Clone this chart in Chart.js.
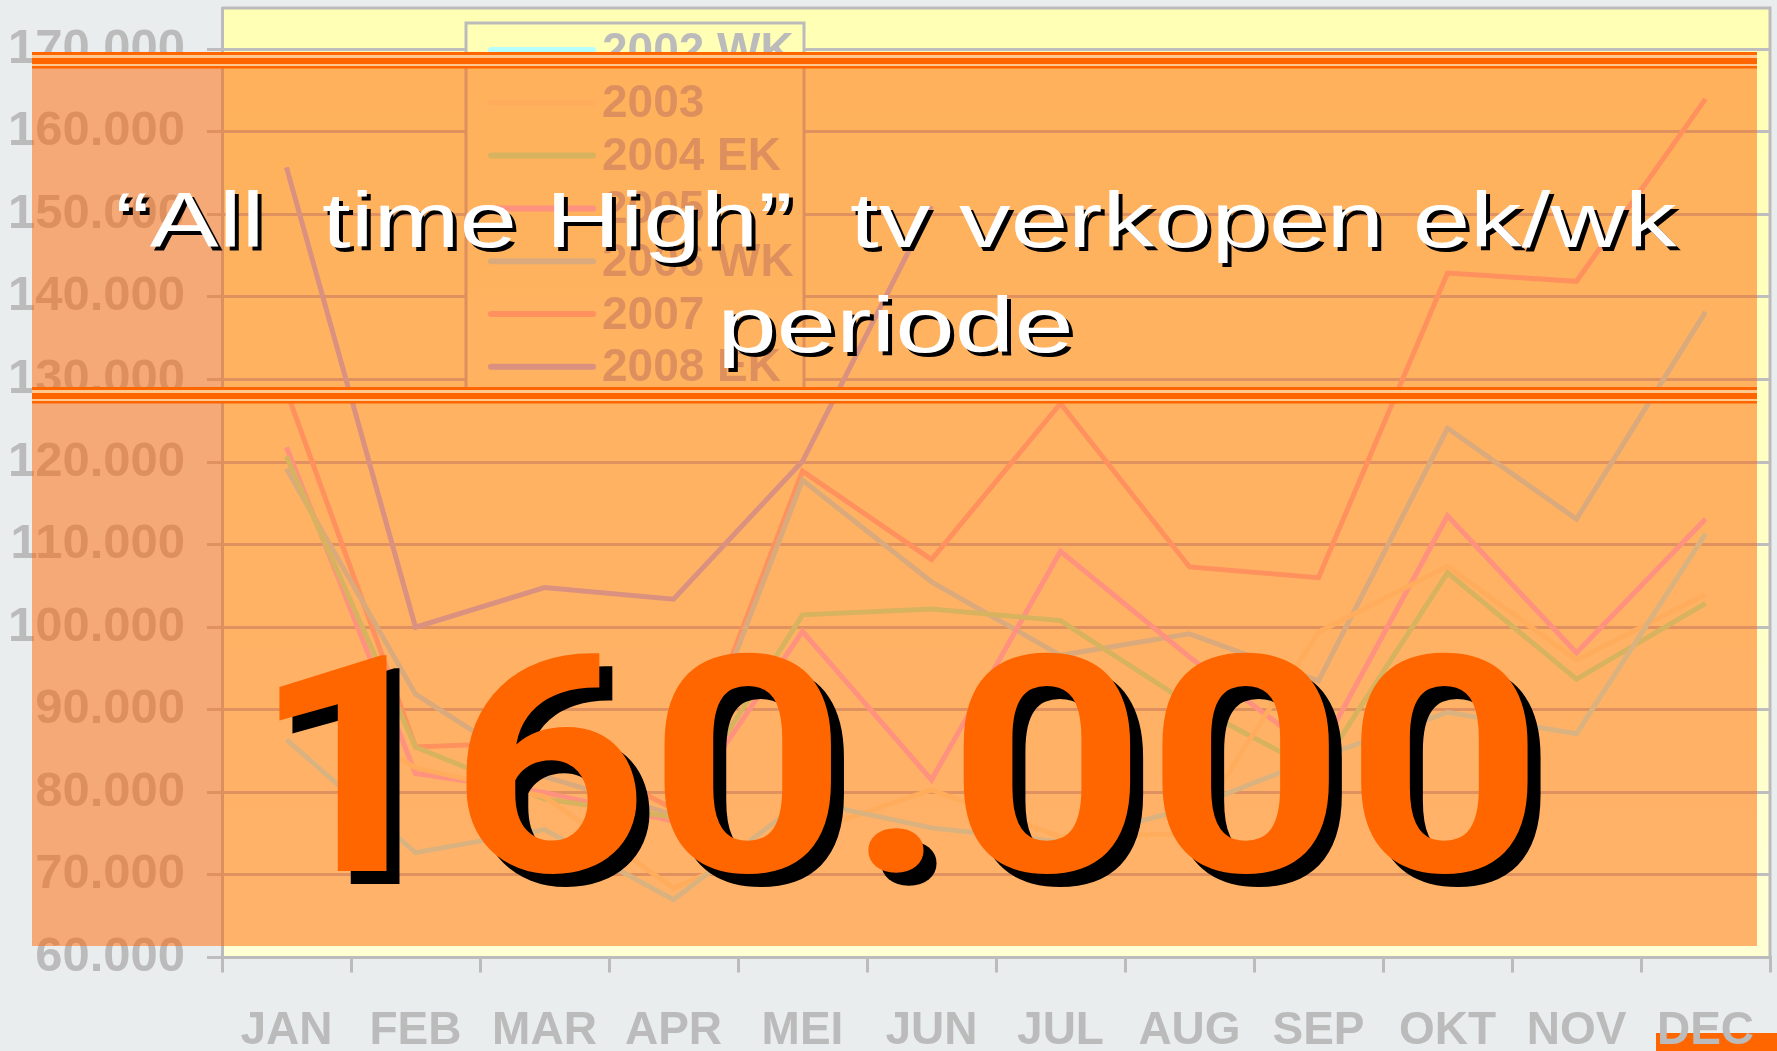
<!DOCTYPE html>
<html>
<head>
<meta charset="utf-8">
<title>All time High tv verkopen</title>
<script src="https://cdn.jsdelivr.net/npm/chart.js@4.4.1/dist/chart.umd.min.js"></script>
<style>
  html, body { margin: 0; padding: 0; background: #E9EDEE; }
  #chart { display: block; }
</style>
</head>
<body>
<canvas id="chart" width="1777" height="1051"></canvas>
<script>
// months on the x axis
const months = ['JAN', 'FEB', 'MAR', 'APR', 'MEI', 'JUN', 'JUL', 'AUG', 'SEP', 'OKT', 'NOV', 'DEC'];

// tv sales per month
const sales2002 = [86400, 72700, 75500, 67000, 79000, 75700, 74000, 78100, 84200, 89700, 87100, 111300];
const sales2003 = [92000, 83000, 79500, 68400, 75000, 80300, 74600, 75000, 99400, 107400, 96000, 104000];
const sales2004 = [120700, 85500, 79200, 77000, 101500, 102200, 100800, 90700, 82500, 106600, 93700, 102900];
const sales2005 = [121800, 82300, 80000, 76500, 99500, 81500, 109200, 96400, 84600, 113500, 96900, 113100];
const sales2006 = [119200, 91900, 81900, 77300, 117800, 105500, 96600, 99200, 93500, 124100, 113100, 138200];
const sales2007 = [128600, 85500, 86100, 78000, 118900, 108200, 127100, 107300, 106000, 142900, 141900, 164000];
const sales2008 = [155700, 100000, 104800, 103400, 120100, 151000, null, null, null, null, null, null];

const seriesNames = ['2002 WK', '2003', '2004 EK', '2005', '2006 WK', '2007', '2008 EK'];
const seriesColors = ['#B5FFFF', '#FFF4B8', '#AFFFBE', '#FFBCFF', '#B5EEFA', '#FFBCBE', '#B5BCFF'];

// y axis range and tick labels
const yMin = 60000;
const yMax = 175000;
const yTicks = [60000, 70000, 80000, 90000, 100000, 110000, 120000, 130000, 140000, 150000, 160000, 170000];

const FONT = "'Liberation Sans', Arial, sans-serif";
const GREY = '#BBBBBB';

function formatThousands(v) {
    return String(Math.round(v)).replace(/\B(?=(\d{3})+(?!\d))/g, '.');
}

// draws text stretched so that its ink spans [left, right]
function stretchedText(ctx, text, left, right, baseline, font, fill, shadowOffset) {
    ctx.save();
    ctx.font = font;
    ctx.textAlign = 'left';
    ctx.textBaseline = 'alphabetic';
    const m = ctx.measureText(text);
    const ink = m.actualBoundingBoxLeft + m.actualBoundingBoxRight;
    const sx = (right - left) / ink;
    ctx.translate(left + m.actualBoundingBoxLeft * sx, baseline);
    ctx.scale(sx, 1);
    ctx.fillStyle = '#000000';
    ctx.fillText(text, shadowOffset / sx, shadowOffset);
    ctx.fillStyle = fill;
    ctx.fillText(text, 0, 0);
    ctx.restore();
}

function plotFill(ctx, a) {
    const g = ctx.createLinearGradient(0, a.top, 0, a.bottom);
    g.addColorStop(0, '#FFFFB4');
    g.addColorStop(1, '#FFFFD4');
    return g;
}

const backdrop = {
    id: 'backdrop',
    beforeDraw(chart) {
        const { ctx, chartArea: a } = chart;
        ctx.save();
        ctx.fillStyle = '#E9EDEE';
        ctx.fillRect(0, 0, chart.width, chart.height);
        // little orange block bottom right
        ctx.fillStyle = '#FF6600';
        ctx.fillRect(1656, 1033, 121, 18);
        ctx.fillStyle = plotFill(ctx, a);
        ctx.fillRect(a.left, a.top, a.right - a.left, a.bottom - a.top);
        ctx.strokeStyle = GREY;
        ctx.lineWidth = 3;
        ctx.beginPath();
        ctx.moveTo(a.left, a.top);
        ctx.lineTo(a.right, a.top);
        ctx.lineTo(a.right, a.bottom);
        ctx.stroke();
        ctx.restore();
    }
};

const boxLegend = {
    id: 'boxLegend',
    afterDatasetsDraw(chart) {
        const ctx = chart.ctx;
        ctx.save();
        ctx.fillStyle = plotFill(ctx, chart.chartArea);
        ctx.fillRect(466, 23, 338, 373);
        ctx.strokeStyle = GREY;
        ctx.lineWidth = 3;
        ctx.strokeRect(466, 23, 338, 373);
        ctx.font = 'bold 46px ' + FONT;
        ctx.textBaseline = 'middle';
        ctx.textAlign = 'left';
        chart.data.datasets.forEach((ds, i) => {
            const y = 50 + i * 52.8;
            ctx.strokeStyle = ds.borderColor;
            ctx.lineWidth = 6;
            ctx.lineCap = 'round';
            ctx.beginPath();
            ctx.moveTo(491, y);
            ctx.lineTo(593, y);
            ctx.stroke();
            ctx.fillStyle = GREY;
            ctx.fillText(ds.label, 602, y + 2);
        });
        ctx.restore();
    }
};

const overlay = {
    id: 'overlay',
    afterDraw(chart) {
        const ctx = chart.ctx;
        ctx.save();
        ctx.fillStyle = 'rgba(255, 102, 0, 0.5)';
        ctx.fillRect(32, 52, 1725, 894);

        [52, 387].forEach(y => {
            ctx.fillStyle = '#FFC88E';
            ctx.fillRect(32, y, 1725, 16);
            ctx.fillStyle = '#FF6600';
            ctx.fillRect(32, y, 1725, 3);
            ctx.fillRect(32, y + 6, 1725, 6);
            ctx.fillRect(32, y + 14, 1725, 2.5);
        });

        stretchedText(ctx, '\u201CAll  time High\u201D  tv verkopen ek/wk', 118, 1678, 247,
            '78px ' + FONT, '#FFFFFF', 4);
        stretchedText(ctx, 'periode', 724, 1069, 352, '78px ' + FONT, '#FFFFFF', 4);
        stretchedText(ctx, '160.000', 278, 1529, 871, 'bold 303px Roboto, ' + FONT, '#FF6600', 13);
        ctx.restore();
    }
};

const allSeries = [sales2002, sales2003, sales2004, sales2005, sales2006, sales2007, sales2008];

const chart = new Chart(document.getElementById('chart').getContext('2d'), {
    type: 'line',
    data: {
        labels: months,
        datasets: allSeries.map((values, i) => ({
            label: seriesNames[i],
            data: values,
            borderColor: seriesColors[i],
            backgroundColor: seriesColors[i],
            borderWidth: 5,
            pointRadius: 0,
            tension: 0,
            fill: false,
            borderJoinStyle: 'miter'
        }))
    },
    options: {
        responsive: false,
        animation: false,
        devicePixelRatio: 1,
        layout: { padding: { top: 8, right: 7, left: 0, bottom: 0 } },
        plugins: {
            legend: { display: false },
            tooltip: { enabled: false }
        },
        scales: {
            x: {
                offset: true,
                grid: {
                    offset: true,
                    drawOnChartArea: false,
                    drawTicks: true,
                    tickLength: 15,
                    color: GREY,
                    lineWidth: 3
                },
                border: { display: true, color: GREY, width: 3 },
                ticks: {
                    color: GREY,
                    padding: 31,
                    autoSkip: false,
                    maxRotation: 0,
                    font: { family: FONT, size: 46, weight: 'bold' }
                },
                afterFit(scale) {
                    scale.height = 93.5;
                    scale.paddingLeft = 0;
                    scale.paddingRight = 0;
                }
            },
            y: {
                min: yMin,
                max: yMax,
                grid: {
                    color: '#BEBEBE',
                    lineWidth: 3,
                    drawTicks: true,
                    tickLength: 15
                },
                border: { display: true, color: GREY, width: 3 },
                ticks: {
                    color: GREY,
                    padding: 22,
                    font: { family: FONT, size: 49, weight: 'bold' },
                    callback: (v) => formatThousands(v)
                },
                afterBuildTicks(scale) {
                    scale.ticks = yTicks.map(v => ({ value: v }));
                },
                afterFit(scale) {
                    scale.width = 222;
                    scale.paddingTop = 0;
                    scale.paddingBottom = 0;
                }
            }
        }
    },
    plugins: [backdrop, boxLegend, overlay]
});
</script>
</body>
</html>
